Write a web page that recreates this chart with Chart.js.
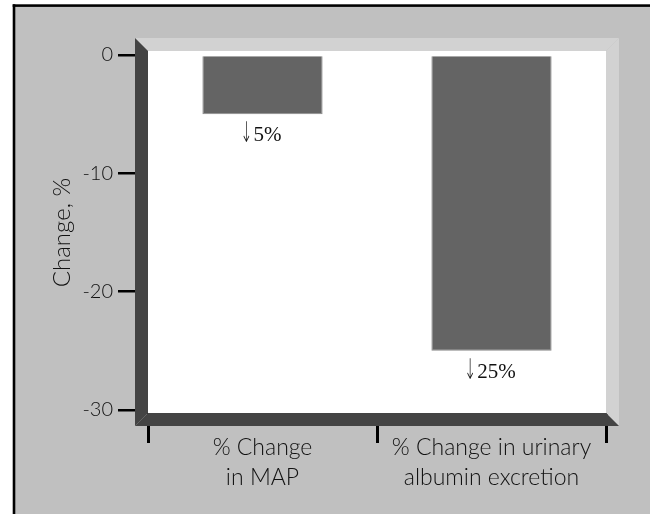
<!DOCTYPE html>
<html><head><meta charset="utf-8">
<script src="https://cdn.jsdelivr.net/npm/chart.js@4"></script>
<style>html,body{margin:0;padding:0;background:#fff;}canvas{display:block;}</style>
</head><body>
<canvas id="c" width="650" height="514"></canvas>
<script>
const categories = [['% Change', 'in MAP'], ['% Change in urinary', 'albumin excretion']];
const changeValues = [-5, -25];
const yTicks = [0, -10, -20, -30];
const yTitle = 'Change, %';

const frame = {
  id: 'frame',
  beforeDraw(chart) {
    const ctx = chart.ctx;
    ctx.save();
    ctx.fillStyle = '#ffffff';
    ctx.fillRect(0, 0, 650, 514);
    ctx.fillStyle = '#c0c0c0';
    ctx.fillRect(15, 6.5, 635, 510);
    ctx.fillStyle = '#000000';
    ctx.fillRect(12.7, 4.3, 2.6, 510);
    ctx.fillRect(12.7, 4.3, 640, 2.6);
    ctx.restore();
  },
  beforeDatasetsDraw(chart) {
    const ctx = chart.ctx;
    const a = chart.chartArea;
    const L = a.left, R = a.right, T = a.top - 4, B = a.bottom + 3, d = 13;
    ctx.save();
    const poly = (pts, col) => {
      ctx.beginPath();
      ctx.moveTo(pts[0][0], pts[0][1]);
      for (let i = 1; i < pts.length; i++) ctx.lineTo(pts[i][0], pts[i][1]);
      ctx.closePath();
      ctx.fillStyle = col;
      ctx.fill();
    };
    ctx.fillStyle = '#ffffff';
    ctx.fillRect(L, T, R - L, B - T);
    poly([[L - d, T - d], [R + d, T - d], [R, T], [L, T]], '#d2d2d2');
    poly([[R + d, T - d], [R + d, B + d], [R, B], [R, T]], '#d2d2d2');
    poly([[L - d, T - d], [L, T], [L, B], [L - d, B + d]], '#444444');
    poly([[L - d, B + d], [L, B], [R, B], [R + d, B + d]], '#444444');
    ctx.restore();
  },
  afterDatasetsDraw(chart) {
    const ctx = chart.ctx;
    const meta = chart.getDatasetMeta(0);
    ctx.save();
    ctx.fillStyle = '#111111';
    ctx.textBaseline = 'alphabetic';
    meta.data.forEach((bar, i) => {
      const txt = Math.abs(changeValues[i]) + '%';
      ctx.font = '21px "Liberation Serif"';
      const tw = ctx.measureText(txt).width;
      ctx.font = '300 19px "DejaVu Sans"';
      const aw = ctx.measureText('\u2193').width * 0.75;
      const x0 = bar.x - (tw + aw) / 2;
      const base = bar.y + 27;
      ctx.textAlign = 'left';
      ctx.save();
      ctx.translate(x0 - 2, base + 1);
      ctx.scale(0.75, 1.5);
      ctx.fillText('\u2193', 0, 0);
      ctx.restore();
      ctx.font = '21px "Liberation Serif"';
      ctx.fillText(txt, x0 + aw - 1, base);
    });
    ctx.restore();
  }
};

new Chart(document.getElementById('c'), {
  type: 'bar',
  data: {
    labels: categories,
    datasets: [{
      data: changeValues,
      backgroundColor: '#646464',
      borderColor: '#8a8a8a',
      borderWidth: 1,
      categoryPercentage: 1,
      barPercentage: 0.525
    }]
  },
  options: {
    responsive: false,
    animation: false,
    devicePixelRatio: 1,
    layout: { padding: { top: 55, right: 44, left: 0, bottom: 0 } },
    plugins: { legend: { display: false }, tooltip: { enabled: false } },
    scales: {
      x: {
        afterFit(s) { s.height = 104; },
        border: { display: false },
        grid: { drawOnChartArea: false, drawTicks: true, tickLength: 33, color: '#000000', lineWidth: 3, offset: true },
        ticks: { color: '#111111', padding: -10, maxRotation: 0, autoSkip: false,
          font: { family: 'Lato', weight: 300, size: 23, lineHeight: 1.3 } }
      },
      y: {
        min: -30, max: 0,
        afterFit(s) { s.width = 148; },
        afterBuildTicks(s) { s.ticks = yTicks.map(v => ({ value: v })); },
        border: { display: false },
        grid: { drawOnChartArea: false, drawTicks: true, tickLength: 30, color: '#000000', lineWidth: 2.5 },
        ticks: { color: '#111111', padding: 5, font: { family: 'Lato', weight: 300, size: 20 } },
        title: { display: true, text: yTitle, color: '#111111', padding: { top: 48, bottom: 0 },
          font: { family: 'Lato', weight: 300, size: 24 } }
      }
    }
  },
  plugins: [frame]
});
</script>
</body></html>
